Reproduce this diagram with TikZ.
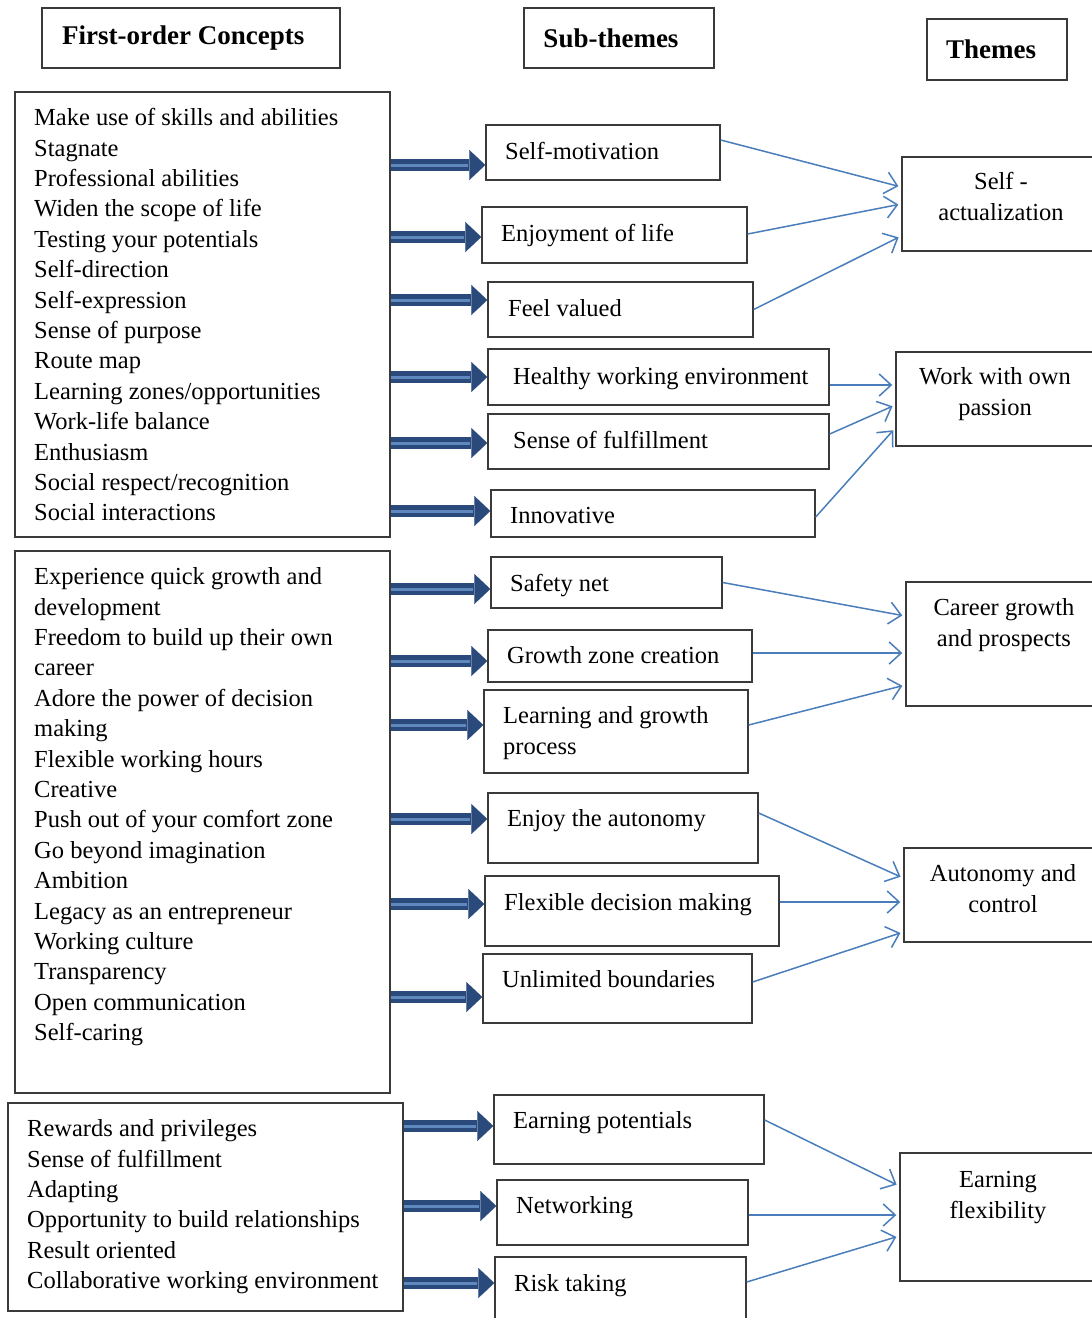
\documentclass[tikz,border=0pt]{standalone}
\usepackage{fontspec}
\setmainfont{Liberation Serif}
\usetikzlibrary{arrows.meta,calc,fit}
\definecolor{boxline}{HTML}{3A3A3A}
\definecolor{arrdark}{HTML}{2B4A7C}
\definecolor{arrlight}{HTML}{5E88BE}
\definecolor{thincol}{HTML}{4A7EBB}
\tikzset{
  box/.style={draw=boxline, line width=1.4pt, inner sep=0pt},
  head/.style={draw=boxline, line width=1.4pt, font={\fontsize{27}{32}\selectfont\bfseries}},
  txt/.style={inner sep=0pt, font={\fontsize{24.5}{30.4}\selectfont}, align=left},
  ctxt/.style={inner sep=0pt, font={\fontsize{24.5}{30.4}\selectfont}, align=center},
  bigarrow/.style={draw=arrdark, line width=12pt, -{Triangle[length=16pt,width=30pt,line width=0.1pt]}},
  stripe/.style={draw=arrlight, line width=3pt, shorten >=17pt},
  thinarrow/.style={draw=thincol, line width=1.5pt, shorten >=3pt, -{Straight Barb[length=12pt,width=22pt,line width=1.5pt]}}
}
\newcommand{\bigarr}[3]{%
  \coordinate (tmpE) at ($(#2.west)+(0,#3)$);
  \draw[bigarrow] (#1.east |- tmpE) -- (tmpE);
  \draw[stripe] (#1.east |- tmpE) -- (tmpE);}
\newcommand{\thinarr}[4]{%
  \draw[thinarrow] ($(#1.east)+(0,#2)$) -- ($(#3.west)+(0,#4)$);}
\begin{document}
\begin{tikzpicture}[x=1pt,y=-1pt]
\useasboundingbox (0,0) rectangle (1092,1318);
\fill[white] (0,0) rectangle (1092,1318);
\clip (0,0) rectangle (1092,1318);
% headers
\node[head, minimum width=298pt, minimum height=60pt] (H1) at (191,38) {};
\node[inner sep=0pt, font={\fontsize{27}{32}\selectfont\bfseries}, anchor=west] (H1t) at (62,38) {First-order Concepts};
\node[head, minimum width=190pt, minimum height=60pt] (H2) at (619,38) {};
\node[inner sep=0pt, font={\fontsize{27}{32}\selectfont\bfseries}] (H2t) at (611,38) {Sub-themes};
\node[head, minimum width=140pt, minimum height=61pt] (H3) at (997,49.5) {};
\node[inner sep=0pt, font={\fontsize{27}{32}\selectfont\bfseries}] (H3t) at (991,49) {Themes};
% left boxes
\node[box, fit={(15,92) (390,537)}] (L1) {};
\node[box, fit={(15,551) (390,1093)}] (L2) {};
\node[box, fit={(8,1103) (403,1311)}] (L3) {};
\node[txt, anchor=north west] (L1t) at (34,104.2) {\strut Make use of skills and abilities\\Stagnate\\Professional abilities\\Widen the scope of life\\Testing your potentials\\Self-direction\\Self-expression\\Sense of purpose\\Route map\\Learning zones/opportunities\\Work-life balance\\Enthusiasm\\Social respect/recognition\\Social interactions};
\node[txt, anchor=north west] (L2t) at (34,563.2) {\strut Experience quick growth and\\development\\Freedom to build up their own\\career\\Adore the power of decision\\making\\Flexible working hours\\Creative\\Push out of your comfort zone\\Go beyond imagination\\Ambition\\Legacy as an entrepreneur\\Working culture\\Transparency\\Open communication\\Self-caring};
\node[txt, anchor=north west] (L3t) at (27,1115.2) {\strut Rewards and privileges\\Sense of fulfillment\\Adapting\\Opportunity to build relationships\\Result oriented\\Collaborative working environment};
% sub-theme boxes
\node[box, fit={(486,125) (720,180)}] (S1) {};
\node[box, fit={(482,207) (747,263)}] (S2) {};
\node[box, fit={(488,282) (753,337)}] (S3) {};
\node[box, fit={(488,349) (829,405)}] (S4) {};
\node[box, fit={(488,414) (829,469)}] (S5) {};
\node[box, fit={(491,490) (815,537)}] (S6) {};
\node[box, fit={(491,557) (722,608)}] (S7) {};
\node[box, fit={(488,630) (752,682)}] (S8) {};
\node[box, fit={(484,690) (748,773)}] (S9) {};
\node[box, fit={(488,793) (758,863)}] (S10) {};
\node[box, fit={(485,876) (779,946)}] (S11) {};
\node[box, fit={(483,954) (752,1023)}] (S12) {};
\node[box, fit={(494,1095) (764,1164)}] (S13) {};
\node[box, fit={(497,1180) (748,1245)}] (S14) {};
\node[box, fit={(495,1257) (746,1330)}] (S15) {};
\node[txt, anchor=base west] (S1t) at (505,159.5) {Self-motivation};
\node[txt, anchor=base west] (S2t) at (501,241.5) {Enjoyment of life};
\node[txt, anchor=base west] (S3t) at (508,316.5) {Feel valued};
\node[txt, anchor=base west] (S4t) at (513,384.5) {Healthy working environment};
\node[txt, anchor=base west] (S5t) at (513,448.5) {Sense of fulfillment};
\node[txt, anchor=base west] (S6t) at (510,523.5) {Innovative};
\node[txt, anchor=base west] (S7t) at (510,591.5) {Safety net};
\node[txt, anchor=base west] (S8t) at (507,663.5) {Growth zone creation};
\node[txt, anchor=north west] (S9t) at (503,702.2) {\strut Learning and growth\\process};
\node[txt, anchor=base west] (S10t) at (507,826.5) {Enjoy the autonomy};
\node[txt, anchor=base west] (S11t) at (504,910.5) {Flexible decision making};
\node[txt, anchor=base west] (S12t) at (502,987.5) {Unlimited boundaries};
\node[txt, anchor=base west] (S13t) at (513,1128.5) {Earning potentials};
\node[txt, anchor=base west] (S14t) at (516,1213.5) {Networking};
\node[txt, anchor=base west] (S15t) at (514,1291.5) {Risk taking};
% theme boxes
\node[box, fit={(902,157) (1110,251)}] (T1) {};
\node[box, fit={(896,352) (1110,446)}] (T2) {};
\node[box, fit={(906,582) (1110,706)}] (T3) {};
\node[box, fit={(904,848) (1110,942)}] (T4) {};
\node[box, fit={(900,1153) (1110,1281)}] (T5) {};
\node[ctxt, anchor=north] (T1t) at (1001,168.2) {\strut Self -\\actualization};
\node[ctxt, anchor=north] (T2t) at (995,363.2) {\strut Work with own\\passion};
\node[ctxt, anchor=north] (T3t) at (1004,594.2) {\strut Career growth\\and prospects};
\node[ctxt, anchor=north] (T4t) at (1003,860.2) {\strut Autonomy and\\control};
\node[ctxt, anchor=north] (T5t) at (998,1166.2) {\strut Earning\\flexibility};
% thick arrows
\bigarr{L1}{S1}{12.5}
\bigarr{L1}{S2}{2}
\bigarr{L1}{S3}{-9.5}
\bigarr{L1}{S4}{0}
\bigarr{L1}{S5}{1.5}
\bigarr{L1}{S6}{-2.5}
\bigarr{L2}{S7}{6.5}
\bigarr{L2}{S8}{5}
\bigarr{L2}{S9}{-6.5}
\bigarr{L2}{S10}{-9}
\bigarr{L2}{S11}{-7}
\bigarr{L2}{S12}{8.5}
\bigarr{L3}{S13}{-3.5}
\bigarr{L3}{S14}{-6.5}
\bigarr{L3}{S15}{-10.5}
% thin arrows
\thinarr{S1}{-12.5}{T1}{-17}
\thinarr{S2}{-1}{T1}{0}
\thinarr{S3}{0}{T1}{32}
\thinarr{S4}{8}{T2}{-14}
\thinarr{S5}{-7.5}{T2}{6}
\thinarr{S6}{3.5}{T2}{29}
\thinarr{S7}{0}{T3}{-28}
\thinarr{S8}{-3}{T3}{9}
\thinarr{S9}{-6.5}{T3}{41}
\thinarr{S10}{-15}{T4}{-17}
\thinarr{S11}{-9}{T4}{7}
\thinarr{S12}{-6.5}{T4}{37}
\thinarr{S13}{-9.5}{T5}{-31}
\thinarr{S14}{2.5}{T5}{-2}
\thinarr{S15}{-11.5}{T5}{19}
\end{tikzpicture}
\end{document}
